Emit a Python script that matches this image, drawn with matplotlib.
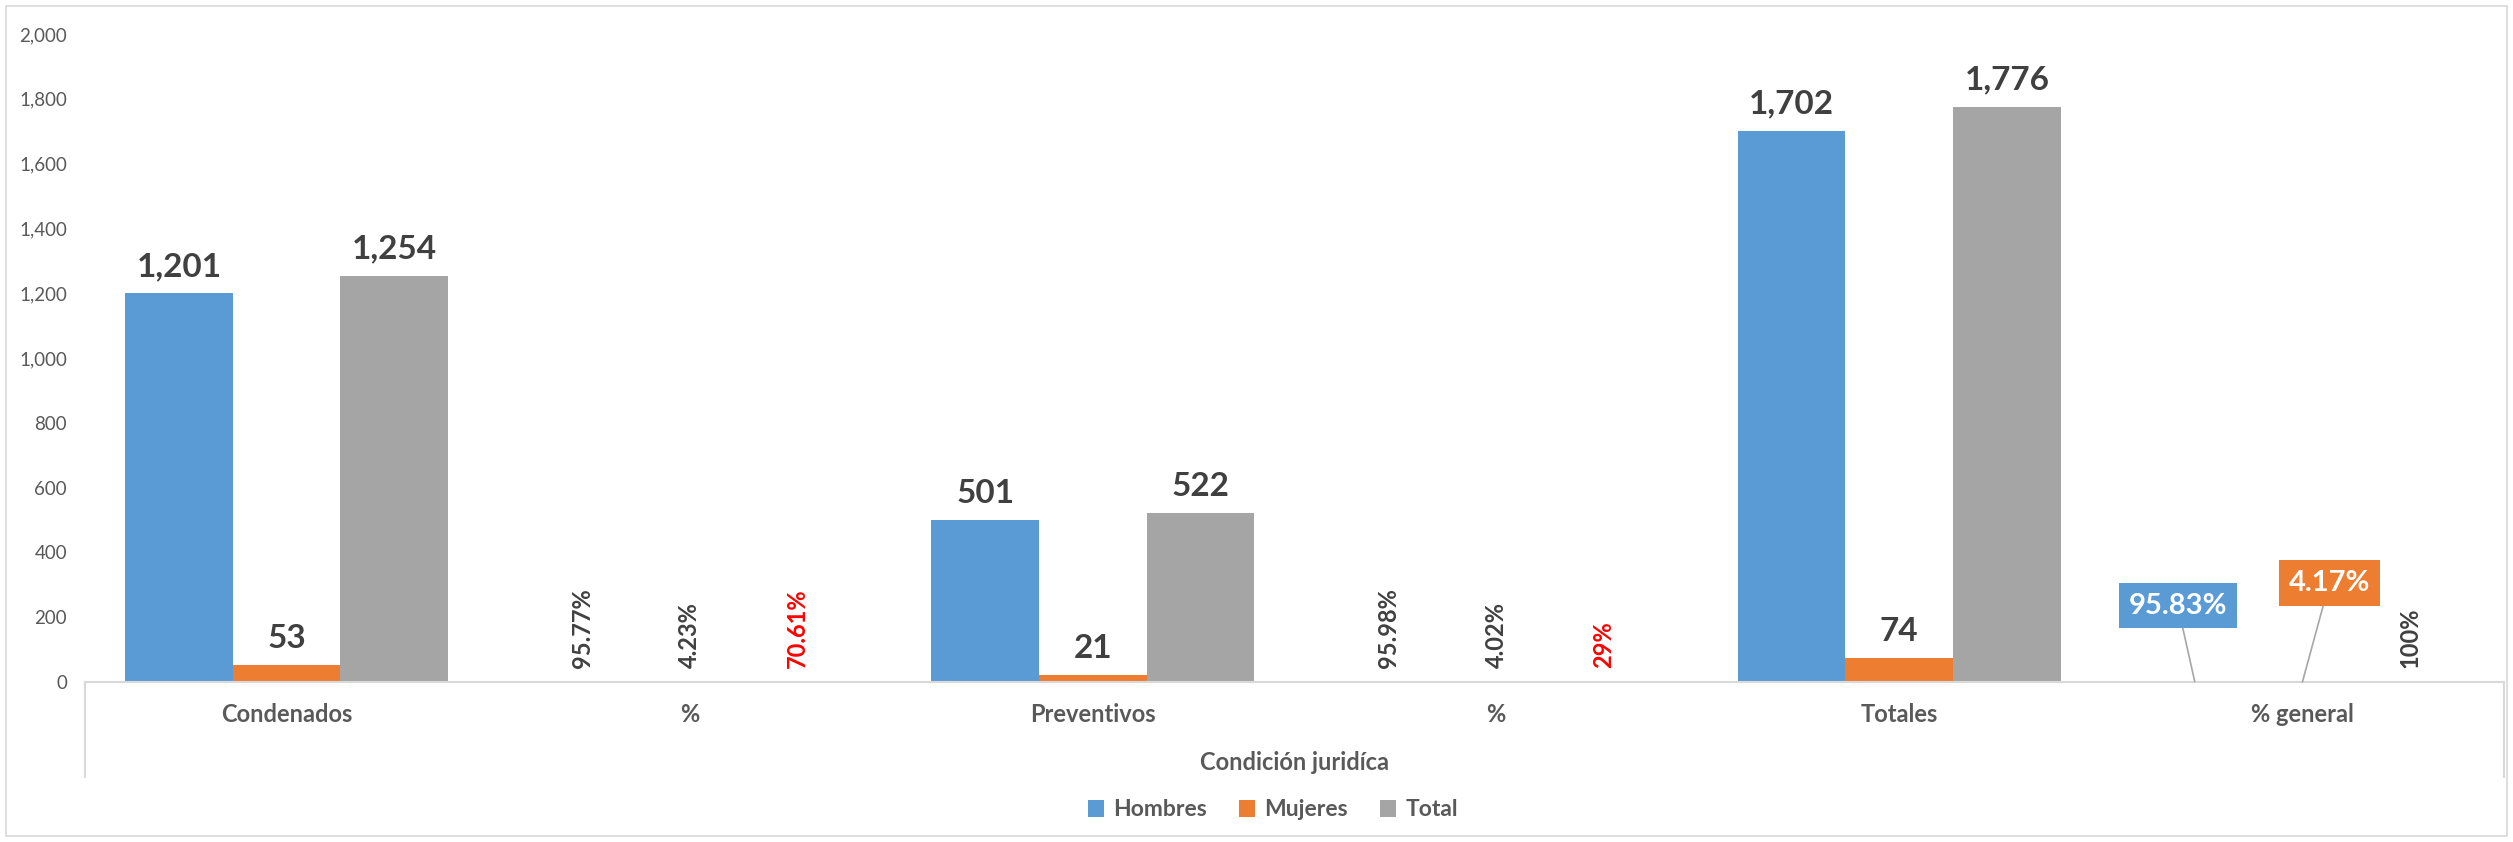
import numpy as np
import matplotlib.pyplot as plt
from matplotlib.patches import Rectangle

plt.rcParams['font.family'] = ['Lato', 'DejaVu Sans']

# Datos (los grupos "%" guardan fracciones)
categories = ['Condenados', '%', 'Preventivos', '%', 'Totales', '% general']
hombres = [1201, 0.9577, 501, 0.9598, 1702, 0.9583]
mujeres = [53, 0.0423, 21, 0.0402, 74, 0.0417]
total = [1254, 0.7061, 522, 0.29, 1776, 1.0]
series_names = ['Hombres', 'Mujeres', 'Total']
pct_groups = [1, 3, 5]

colors = ['#5B9BD5', '#ED7D31', '#A5A5A5']
label_color = '#404040'
axis_text = '#595959'


def pct_label(v):
    return f"{v * 100:.2f}".rstrip('0').rstrip('.') + '%'


W, H = 2513, 842
fig = plt.figure(figsize=(W / 100, H / 100), dpi=100)
ax = fig.add_axes([85 / W, 160 / H, (2504 - 85) / W, (682 - 34) / H])

# borde del area del grafico
fig.patches.append(Rectangle((6 / W, 6 / H), (2507 - 6) / W, (836 - 6) / H,
                             transform=fig.transFigure, fill=False,
                             edgecolor='#d9d9d9', lw=1.2))

x = np.arange(len(categories))
bw = 0.267
all_series = [hombres, mujeres, total]
for i, (vals, name, c) in enumerate(zip(all_series, series_names, colors)):
    pos = x + (i - 1) * bw
    ax.bar(pos, vals, width=bw, color=c, label=name)
    for j, (p, v) in enumerate(zip(pos, vals)):
        if j in pct_groups:
            if j == 5 and i < 2:
                continue
            col = '#FF0000' if (i == 2 and j != 5) else label_color
            ax.annotate(pct_label(v), (p, v), xytext=(0, 14), textcoords='offset pixels',
                        rotation=90, ha='center', va='bottom', fontsize=17,
                        fontweight='bold', color=col)
        else:
            ax.annotate(f"{v:,.0f}", (p, v), xytext=(0, 12), textcoords='offset pixels',
                        ha='center', va='bottom', fontsize=24, fontweight='bold',
                        color=label_color)

# etiquetas tipo llamada en "% general"
callouts = [(0, -17, 76), (1, 27, 99)]
for i, dx, dy in callouts:
    p = x[5] + (i - 1) * bw
    v = all_series[i][5]
    ax.annotate(pct_label(v), (p, v), xytext=(dx, dy), textcoords='offset pixels',
                ha='center', va='center', fontsize=21, fontweight='bold', color='white',
                bbox=dict(boxstyle='square,pad=0.33', fc=colors[i], ec='none'),
                arrowprops=dict(arrowstyle='-', color='#a6a6a6', lw=1.2,
                                shrinkA=0, shrinkB=0))

ax.set_xlim(-0.5, len(categories) - 0.5)
ax.set_ylim(0, 2000)
ax.set_yticks(np.arange(0, 2001, 200))
ax.set_yticklabels([f"{t:,}" for t in range(0, 2001, 200)])
ax.set_xticks(x)
ax.set_xticklabels(categories, fontsize=17, fontweight='bold', color=axis_text)
ax.tick_params(axis='x', length=0, pad=15)
ax.tick_params(axis='y', length=0, pad=13, labelsize=13.5, labelcolor=axis_text)

for s in ['top', 'right', 'left']:
    ax.spines[s].set_visible(False)
ax.spines['bottom'].set_color('#d9d9d9')
ax.spines['bottom'].set_linewidth(1.5)

# lineas del eje de categorias jerarquico
for xe in [0, 1]:
    ax.plot([xe, xe], [0, -(777 - 682) / 648], transform=ax.transAxes,
            color='#d9d9d9', lw=1.5, clip_on=False)

ax.text(0.5, -(762 - 682) / 648, 'Condición juridíca', transform=ax.transAxes,
        ha='center', va='center', fontsize=17, fontweight='bold', color=axis_text)

leg = fig.legend(loc='center', bbox_to_anchor=(1273 / W, 1 - 810 / H), ncol=3,
                 frameon=False, handlelength=0.7, handleheight=0.7,
                 columnspacing=1.4, handletextpad=0.4,
                 prop={'size': 16.5, 'weight': 'bold'})
for t in leg.get_texts():
    t.set_color(axis_text)

fig.savefig('out.png', dpi=100)
